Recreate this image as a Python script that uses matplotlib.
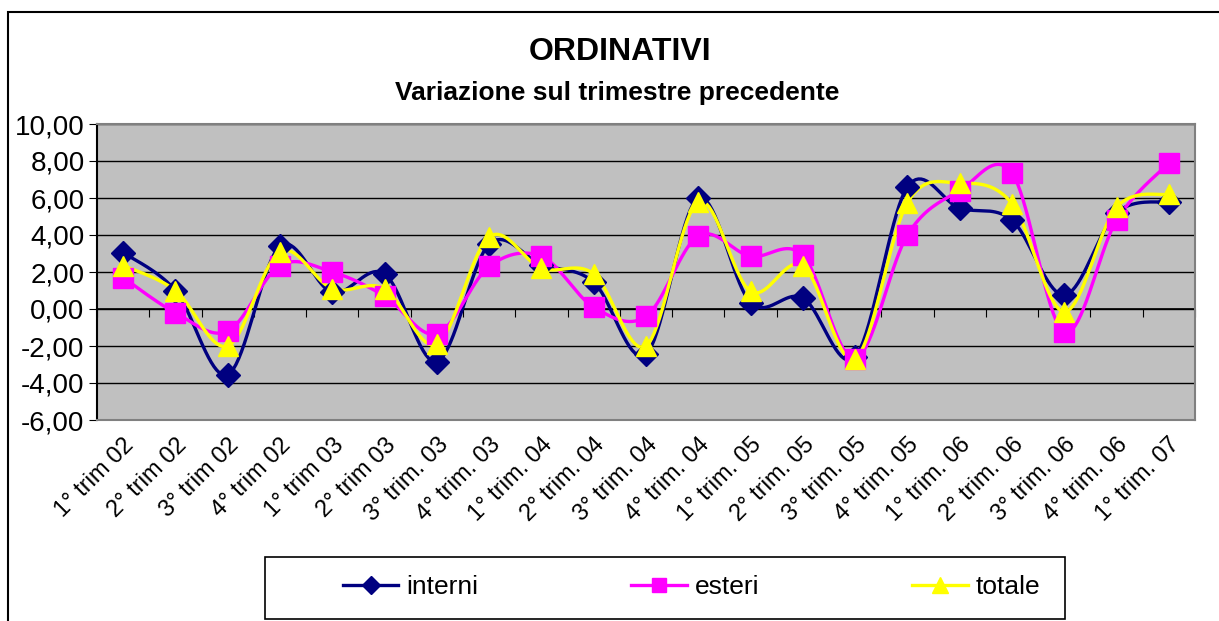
import numpy as np
import matplotlib
matplotlib.use("Agg")
import matplotlib.pyplot as plt
from matplotlib.patches import Rectangle

plt.rcParams['font.family'] = ['Liberation Sans', 'DejaVu Sans']

categories = ["1° trim 02", "2° trim 02", "3° trim 02", "4° trim 02",
              "1° trim 03", "2° trim 03", "3° trim. 03", "4° trim. 03",
              "1° trim. 04", "2° trim. 04", "3° trim. 04", "4° trim. 04",
              "1° trim. 05", "2° trim. 05", "3° trim. 05", "4° trim. 05",
              "1° trim. 06", "2° trim. 06", "3° trim. 06", "4° trim. 06",
              "1° trim. 07"]

interni = [3.05, 1.0, -3.55, 3.4, 0.9, 1.9, -2.85, 3.5, 2.4, 1.45, -2.45, 6.0,
           0.35, 0.6, -2.6, 6.6, 5.45, 4.8, 0.75, 5.2, 5.8]
esteri = [1.7, -0.2, -1.2, 2.35, 2.0, 0.7, -1.35, 2.3, 2.85, 0.1, -0.4, 3.95,
          2.85, 2.9, -2.7, 4.0, 6.4, 7.35, -1.25, 4.8, 7.9]
totale = [2.35, 1.0, -2.0, 3.1, 1.1, 1.1, -1.9, 3.9, 2.2, 1.9, -2.0, 5.8,
          0.95, 2.35, -2.7, 5.75, 6.8, 5.7, -0.15, 5.5, 6.2]

yticks = [-6, -4, -2, 0, 2, 4, 6, 8, 10]


def smooth(x, y, n=20):
    # Excel-like smoothed line (bezier through the points)
    x = np.asarray(x, float)
    y = np.asarray(y, float)
    px = np.concatenate([[x[0]], x, [x[-1]]])
    py = np.concatenate([[y[0]], y, [y[-1]]])
    xs, ys = [], []
    t = np.linspace(0, 1, n)
    for i in range(1, len(px) - 2):
        p0 = np.array([px[i], py[i]])
        p3 = np.array([px[i + 1], py[i + 1]])
        p1 = p0 + (np.array([px[i + 1], py[i + 1]]) - np.array([px[i - 1], py[i - 1]])) / 6
        p2 = p3 - (np.array([px[i + 2], py[i + 2]]) - np.array([px[i], py[i]])) / 6
        b = ((1 - t) ** 3)[:, None] * p0 + (3 * (1 - t) ** 2 * t)[:, None] * p1 \
            + (3 * (1 - t) * t ** 2)[:, None] * p2 + (t ** 3)[:, None] * p3
        xs.extend(b[:, 0])
        ys.extend(b[:, 1])
    return xs, ys


fig = plt.figure(figsize=(12.19, 6.21), dpi=100)
ax = fig.add_axes([97 / 1219, 1 - 420 / 621, 1098 / 1219, 296 / 621])
ax.set_facecolor('#C0C0C0')

x = np.arange(len(categories))
series = [(interni, '#000080', 'D', 12, 'interni'),
          (esteri, '#FF00FF', 's', 14, 'esteri'),
          (totale, '#FFFF00', '^', 15, 'totale')]
handles = []
for vals, col, mk, ms, lab in series:
    sx, sy = smooth(x, vals)
    ax.plot(sx, sy, color=col, lw=2.4, solid_capstyle='round', zorder=3)
    ax.plot(x, vals, linestyle='none', marker=mk, ms=ms, color=col, zorder=4)
    h, = ax.plot([], [], color=col, lw=2.4, marker=mk, ms=ms * 0.75, label=lab)
    handles.append(h)

ax.set_xlim(-0.5, len(categories) - 0.5)
ax.set_ylim(-6, 10)
ax.set_yticks(yticks)
ax.set_yticklabels([f"{v:.2f}".replace('.', ',') for v in yticks], fontsize=20)
ax.yaxis.grid(True, color='black', lw=1)
ax.set_axisbelow(True)
ax.tick_params(axis='y', direction='out', length=6, color='black', pad=3)

ax.set_xticks(x)
ax.set_xticklabels(categories, rotation=45, ha='right', rotation_mode='anchor', fontsize=17)
ax.tick_params(axis='x', length=0, pad=10)

for s in ['top', 'right', 'bottom']:
    ax.spines[s].set_color('#808080')
    ax.spines[s].set_linewidth(1.5)
ax.spines['left'].set_color('black')
ax.spines['left'].set_linewidth(1.5)

# category axis crossing at zero, tick marks between categories
zero_frac = (0 - (-6)) / 16
sec = ax.secondary_xaxis(zero_frac)
sec.set_xticks(np.arange(len(categories) + 1) - 0.5)
sec.set_xticklabels([])
sec.tick_params(axis='x', which='major', direction='out', length=6, color='black')
sec.spines['bottom'].set_color('black')
sec.spines['bottom'].set_linewidth(1.2)
sec.xaxis.set_ticks_position('bottom')

fig.text(620 / 1219, 1 - 52 / 621, "ORDINATIVI", ha='center', va='center',
         fontsize=23, fontweight='bold')
fig.text(617 / 1219, 1 - 93 / 621, "Variazione sul trimestre precedente", ha='center',
         va='center', fontsize=19, fontweight='bold')

# legend box like excel
fig.patches.append(Rectangle((265 / 1219, 1 - 619 / 621), 800 / 1219, 62 / 621,
                             transform=fig.transFigure, fill=False, edgecolor='black', lw=1.2))
leg = fig.legend(handles=handles, loc='center left', ncol=3,
                 bbox_to_anchor=(343 / 1219, 1 - 587 / 621),
                 frameon=False, fontsize=19, handlelength=2.1, handletextpad=0.3,
                 columnspacing=5.8, borderpad=0, borderaxespad=0)

# outer chart border
fig.patches.append(Rectangle((8 / 1219, -0.1), 1.2, 1.1 - 12 / 621, transform=fig.transFigure,
                             fill=False, edgecolor='black', lw=1.5))

fig.savefig("out.png", dpi=100)
